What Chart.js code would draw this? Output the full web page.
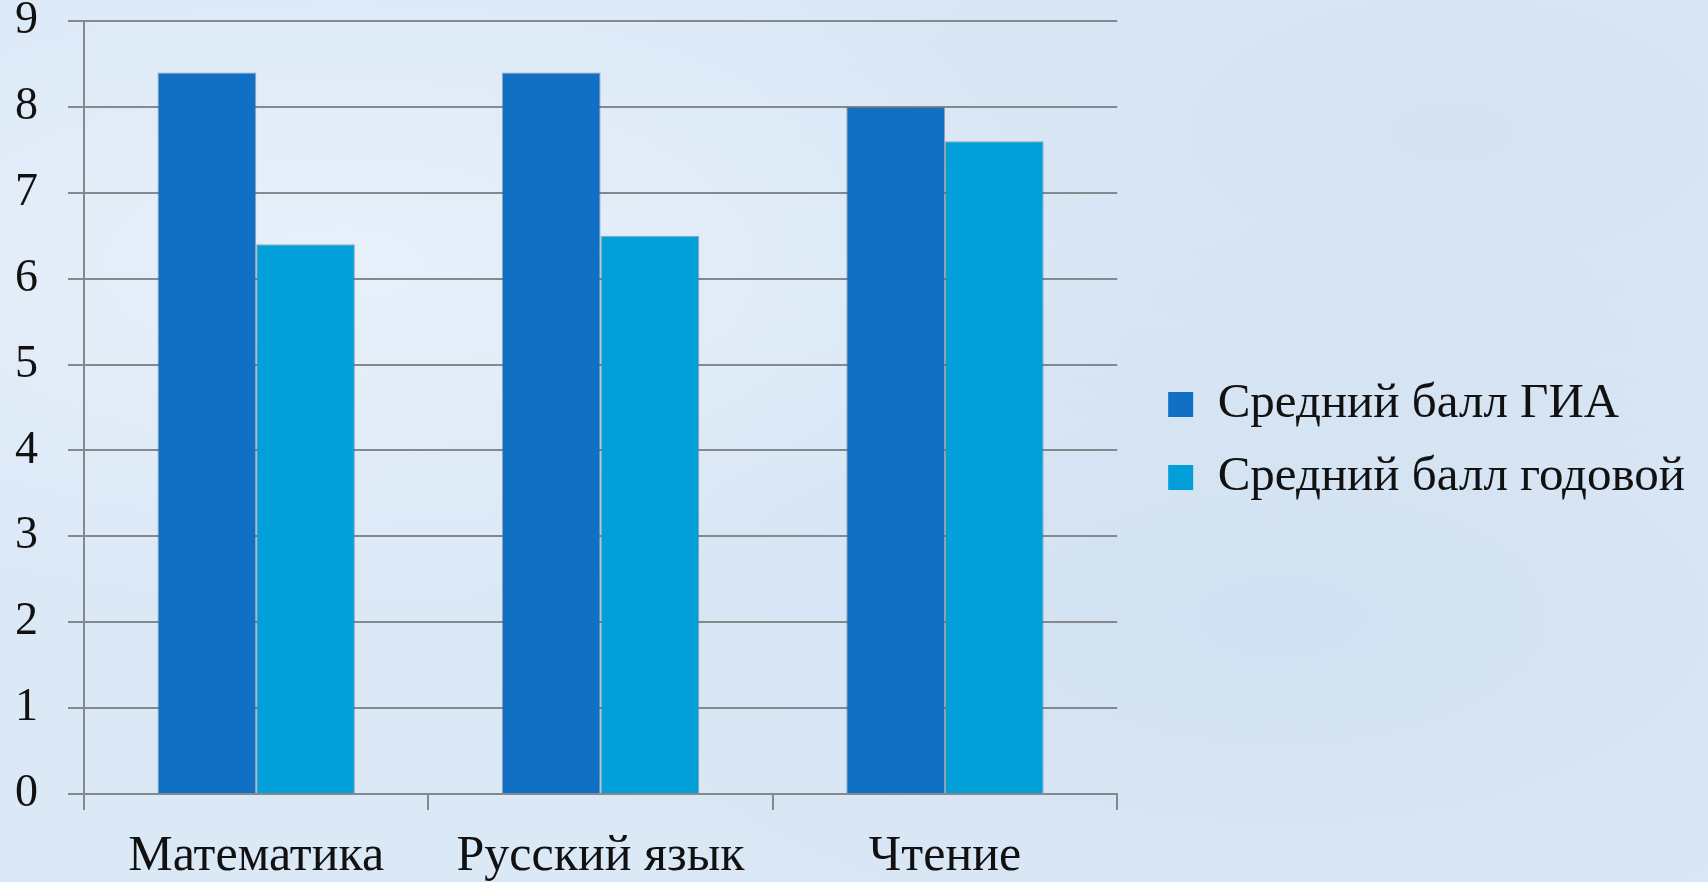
<!DOCTYPE html>
<html lang="ru">
<head>
<meta charset="utf-8">
<title>Средний балл</title>
<script src="https://cdn.jsdelivr.net/npm/chart.js@4.4.1/dist/chart.umd.min.js"></script>
<style>
  html, body { margin: 0; padding: 0; }
  body {
    width: 1708px; height: 882px; overflow: hidden;
    background-color: #dbe8f6;
    background-image:
      radial-gradient(ellipse at 20% 30%, rgba(236,244,252,0.7), rgba(236,244,252,0) 40%),
      radial-gradient(ellipse at 75% 70%, rgba(200,218,236,0.5), rgba(200,218,236,0) 45%),
      radial-gradient(ellipse at 85% 15%, rgba(205,221,238,0.5), rgba(205,221,238,0) 35%);
  }
  #chart { display: block; }
</style>
</head>
<body>
<canvas id="chart" width="1708" height="882"></canvas>
<script>
// данные диаграммы
var categories = ['Математика', 'Русский язык', 'Чтение'];
var giaValues = [8.4, 8.4, 8.0];
var yearValues = [6.4, 6.5, 7.6];
var seriesNames = ['Средний балл ГИА', 'Средний балл годовой'];
var yTicks = [0, 1, 2, 3, 4, 5, 6, 7, 8, 9];

var FONT = '"Liberation Serif", "DejaVu Serif", serif';
var GRID = '#85898e';

new Chart(document.getElementById('chart'), {
    type: 'bar',
    data: {
        labels: categories,
        datasets: [{
            label: seriesNames[0],
            data: giaValues,
            backgroundColor: '#1170c4',
            borderColor: 'rgba(90,100,120,0.55)',
            borderWidth: 1
        }, {
            label: seriesNames[1],
            data: yearValues,
            backgroundColor: '#039fd8',
            borderColor: 'rgba(90,100,120,0.55)',
            borderWidth: 1
        }]
    },
    options: {
        responsive: false,
        devicePixelRatio: 1,
        animation: false,
        layout: { padding: { left: 0, right: 13, top: 0, bottom: 0 } },
        datasets: {
            bar: { categoryPercentage: 0.573, barPercentage: 1 }
        },
        plugins: {
            tooltip: { enabled: false },
            legend: {
                position: 'right',
                align: 'center',
                maxWidth: 800,
                labels: {
                    color: '#111',
                    font: { family: FONT, size: 49 },
                    boxWidth: 25,
                    boxHeight: 25,
                    padding: 24,
                    generateLabels: function (chart) {
                        var items = Chart.defaults.plugins.legend.labels.generateLabels(chart);
                        items.forEach(function (it) { it.lineWidth = 0; });
                        return items;
                    }
                }
            }
        },
        scales: {
            x: {
                afterFit: function (scale) {
                    scale.height = 88;
                    scale.paddingLeft = 0;
                    scale.paddingRight = 0;
                },
                grid: {
                    offset: true,
                    drawOnChartArea: false,
                    drawTicks: true,
                    tickLength: 16,
                    color: GRID,
                    lineWidth: 2
                },
                border: { display: true, color: GRID, width: 2 },
                ticks: {
                    color: '#111',
                    font: { family: FONT, size: 50 },
                    padding: 17,
                    maxRotation: 0,
                    autoSkip: false
                }
            },
            y: {
                min: 0,
                max: 9,
                afterBuildTicks: function (axis) {
                    axis.ticks = yTicks.map(function (v) { return { value: v }; });
                },
                afterFit: function (scale) {
                    scale.width = 84;
                    scale.paddingTop = 21;
                    scale.paddingBottom = 0;
                },
                grid: {
                    color: GRID,
                    lineWidth: 2,
                    tickLength: 16
                },
                border: { display: true, color: GRID, width: 2 },
                ticks: {
                    color: '#111',
                    font: { family: FONT, size: 46, lineHeight: 1 },
                    padding: 30
                }
            },
            // пустая ось справа — только отступ между графиком и легендой
            gap: {
                type: 'linear',
                position: 'right',
                afterFit: function (scale) {
                    scale.width = 27;
                    scale.paddingTop = 0;
                    scale.paddingBottom = 0;
                },
                grid: { display: false },
                border: { display: false },
                ticks: { display: false }
            }
        }
    }
});
</script>
</body>
</html>
